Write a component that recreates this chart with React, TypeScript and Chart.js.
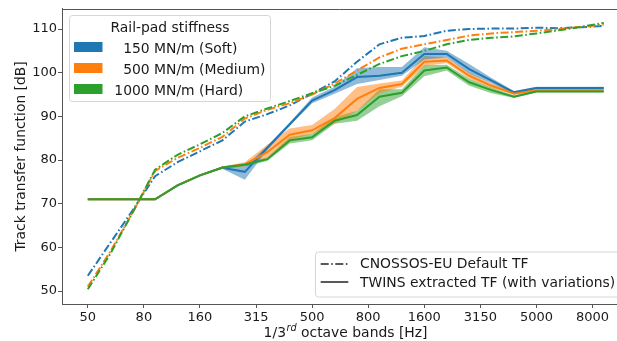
import React, { useEffect, useRef } from 'react';
import { Chart, registerables } from 'chart.js';
Chart.register(...registerables);

// 1/3 octave band centre frequencies (Hz), plotted at index positions
const BANDS = ['50','63','80','100','125','160','200','250','315','400','500','630','800','1000','1250','1600','2000','2500','3150','4000','5000','6300','8000','10000'];
const X_TICK_POS = [0, 2.5, 5, 7.5, 10, 12.5, 15, 17.5, 20, 22.5];
const X_TICK_LABELS = ['50','80','160','315','500','800','1600','3150','5000','8000'];
const Y_TICKS = [50, 60, 70, 80, 90, 100, 110];

const STIFFNESS_LABELS = ['  150 MN/m (Soft)', '  500 MN/m (Medium)', '1000 MN/m (Hard)'];
const COLORS = ['#1f77b4', '#ff7f0e', '#2ca02c'];
const BAND_COLORS = ['rgba(31,119,180,0.5)', 'rgba(255,127,14,0.5)', 'rgba(44,160,44,0.5)'];
const LEGEND_TITLE = 'Rail-pad stiffness';
const STYLE_LABELS = ['CNOSSOS-EU Default TF', 'TWINS extracted TF (with variations)'];

// CNOSSOS-EU default transfer functions (dash-dot)
const CNOSSOS_SOFT = [53.5, 61.0, 68.5, 76.3, 79.5, 82.0, 84.5, 88.8, 90.5, 92.5, 95.2, 98.0, 102.5, 106.5, 108.0, 108.4, 109.6, 110.0, 110.1, 110.1, 110.3, 110.2, 110.4, 110.7];
const CNOSSOS_MEDIUM = [51.0, 59.0, 68.0, 77.5, 80.5, 82.8, 85.3, 89.5, 91.5, 93.0, 95.0, 97.5, 100.5, 103.5, 105.5, 106.5, 107.5, 108.5, 109.0, 109.3, 109.6, 110.0, 110.5, 111.0];
const CNOSSOS_HARD = [50.4, 58.5, 68.0, 77.8, 81.2, 83.6, 86.2, 90.0, 91.8, 93.5, 95.3, 97.0, 99.5, 102.0, 103.8, 105.0, 106.5, 107.5, 108.0, 108.3, 109.0, 109.7, 110.5, 111.4];

// TWINS extracted transfer functions (solid)
const TWINS_SOFT = [71, 71, 71, 71, 74.2, 76.5, 78.2, 77.3, 82.8, 88.2, 93.6, 96.0, 99.0, 99.3, 100.0, 104.3, 104.3, 100.8, 98.2, 95.5, 96.5, 96.5, 96.5, 96.5];
const TWINS_MEDIUM = [71, 71, 71, 71, 74.2, 76.5, 78.3, 79.0, 81.8, 85.8, 86.8, 89.6, 94.0, 96.5, 97.4, 102.5, 102.8, 99.3, 97.0, 95.2, 96.0, 96.0, 96.0, 96.0];
const TWINS_HARD = [71, 71, 71, 71, 74.2, 76.5, 78.3, 78.9, 80.2, 84.5, 85.2, 89.0, 90.3, 94.5, 95.4, 100.5, 101.2, 97.8, 96.0, 94.5, 95.7, 95.7, 95.7, 95.7];

// Variation envelopes
const SOFT_LOW = [71, 71, 71, 71, 74.1, 76.4, 78.0, 75.5, 82.3, 87.8, 93.0, 95.2, 97.4, 98.3, 99.3, 103.0, 103.5, 99.8, 97.6, 95.2, 96.2, 96.2, 96.2, 96.2];
const SOFT_HIGH = [71, 71, 71, 71, 74.3, 76.6, 78.5, 78.5, 83.2, 88.6, 94.3, 96.8, 101.0, 101.3, 101.3, 105.8, 105.0, 102.0, 98.8, 95.8, 96.8, 96.8, 96.8, 96.8];
const MEDIUM_LOW = [71, 71, 71, 71, 74.1, 76.4, 78.1, 78.5, 80.5, 84.5, 86.0, 88.3, 91.3, 95.3, 96.8, 101.5, 102.2, 98.6, 96.5, 95.0, 95.8, 95.8, 95.8, 95.8];
const MEDIUM_HIGH = [71, 71, 71, 71, 74.3, 76.6, 78.5, 79.5, 83.5, 87.2, 88.0, 91.7, 96.7, 97.5, 98.2, 103.8, 103.5, 100.0, 97.6, 95.5, 96.2, 96.2, 96.2, 96.2];
const HARD_LOW = [71, 71, 71, 71, 74.1, 76.4, 78.1, 78.5, 79.8, 83.8, 84.5, 88.3, 89.0, 92.3, 94.6, 99.2, 100.5, 97.0, 95.3, 94.2, 95.5, 95.5, 95.5, 95.5];
const HARD_HIGH = [71, 71, 71, 71, 74.3, 76.6, 78.5, 79.3, 80.6, 85.3, 86.0, 89.8, 91.3, 96.2, 96.2, 101.7, 101.8, 98.6, 96.6, 94.8, 95.9, 95.9, 95.9, 95.9];

const CNOSSOS = [CNOSSOS_SOFT, CNOSSOS_MEDIUM, CNOSSOS_HARD];
const TWINS = [TWINS_SOFT, TWINS_MEDIUM, TWINS_HARD];
const LOWS = [SOFT_LOW, MEDIUM_LOW, HARD_LOW];
const HIGHS = [SOFT_HIGH, MEDIUM_HIGH, HARD_HIGH];

const FONT = "'DejaVu Sans', sans-serif";
const SPINE = '#555555';
const TEXT = '#1a1a1a';
const DASHDOT = [8, 2.5, 1.6, 2.5];

const pts = (arr: number[]) => arr.map((y, i) => ({ x: i, y }));

function buildDatasets() {
  const ds: any[] = [];
  for (let k = 0; k < 3; k++) {
    const lowIndex = ds.length;
    ds.push({ label: 'low' + k, data: pts(LOWS[k]), borderWidth: 0, pointRadius: 0, fill: false, order: 10 });
    ds.push({ label: 'high' + k, data: pts(HIGHS[k]), borderWidth: 0, pointRadius: 0, fill: { target: lowIndex }, backgroundColor: BAND_COLORS[k], order: 10 });
  }
  for (let k = 0; k < 3; k++) {
    ds.push({ label: 'cnossos' + k, data: pts(CNOSSOS[k]), borderColor: COLORS[k], borderWidth: 2, borderDash: DASHDOT, pointRadius: 0, fill: false, order: 5 - k });
  }
  for (let k = 0; k < 3; k++) {
    ds.push({ label: 'twins' + k, data: pts(TWINS[k]), borderColor: COLORS[k], borderWidth: 2, pointRadius: 0, fill: false, order: 3 - k });
  }
  return ds;
}

const overlayPlugin = {
  id: 'overlay',
  afterDraw(chart: any) {
    const { ctx, chartArea: a } = chart;
    ctx.save();
    // top spine
    ctx.strokeStyle = SPINE;
    ctx.lineWidth = 1;
    ctx.beginPath();
    ctx.moveTo(a.left, Math.round(a.top) + 0.5);
    ctx.lineTo(a.right, Math.round(a.top) + 0.5);
    ctx.stroke();

    // x-axis title with superscript
    const main = `13.9px ${FONT}`;
    const sup = `italic 9.7px ${FONT}`;
    const p1 = '1/3', p2 = 'rd', p3 = ' octave bands [Hz]';
    ctx.font = main; const w1 = ctx.measureText(p1).width; const w3 = ctx.measureText(p3).width;
    ctx.font = sup; const w2 = ctx.measureText(p2).width;
    let x0 = 345.3 - (w1 + w2 + w3) / 2;
    const base = 337;
    ctx.fillStyle = TEXT;
    ctx.textBaseline = 'alphabetic';
    ctx.textAlign = 'left';
    ctx.font = main; ctx.fillText(p1, x0, base);
    ctx.font = sup; ctx.fillText(p2, x0 + w1 + 0.5, base - 6.5);
    ctx.font = main; ctx.fillText(p3, x0 + w1 + w2 + 0.5, base);

    // legend 1: stiffness
    const rr = (x: number, y: number, w: number, h: number, r: number) => {
      ctx.beginPath();
      ctx.moveTo(x + r, y);
      ctx.lineTo(x + w - r, y); ctx.arcTo(x + w, y, x + w, y + r, r);
      ctx.lineTo(x + w, y + h - r); ctx.arcTo(x + w, y + h, x + w - r, y + h, r);
      ctx.lineTo(x + r, y + h); ctx.arcTo(x, y + h, x, y + h - r, r);
      ctx.lineTo(x, y + r); ctx.arcTo(x, y, x + r, y, r);
      ctx.closePath();
    };
    rr(69.5, 15.5, 201, 86, 3);
    ctx.fillStyle = 'rgba(255,255,255,0.8)'; ctx.fill();
    ctx.strokeStyle = '#d6d6d6'; ctx.lineWidth = 1; ctx.stroke();
    ctx.fillStyle = TEXT; ctx.font = main; ctx.textAlign = 'center';
    ctx.fillText(LEGEND_TITLE, 170, 32);
    ctx.textAlign = 'left';
    for (let k = 0; k < 3; k++) {
      const cy = 47 + k * 21;
      ctx.fillStyle = COLORS[k];
      ctx.fillRect(74, cy - 5, 28.5, 10);
      ctx.fillStyle = TEXT;
      ctx.fillText(STIFFNESS_LABELS[k], 114.3, cy + 5.5);
    }

    // legend 2: line styles
    rr(315.5, 252, 310, 45, 3);
    ctx.fillStyle = 'rgba(255,255,255,0.8)'; ctx.fill();
    ctx.strokeStyle = '#d6d6d6'; ctx.stroke();
    ctx.strokeStyle = '#595959'; ctx.lineWidth = 2;
    ctx.setLineDash(DASHDOT);
    ctx.beginPath(); ctx.moveTo(320.7, 264); ctx.lineTo(348.3, 264); ctx.stroke();
    ctx.setLineDash([]);
    ctx.beginPath(); ctx.moveTo(320.7, 282); ctx.lineTo(348.3, 282); ctx.stroke();
    ctx.fillStyle = TEXT;
    ctx.fillText(STYLE_LABELS[0], 360, 268.3);
    ctx.fillText(STYLE_LABELS[1], 360, 286.6);
    ctx.restore();
  },
};

export default function App() {
  const ref = useRef<HTMLCanvasElement>(null);
  useEffect(() => {
    const canvas = ref.current;
    if (!canvas) return;
    Chart.defaults.font.family = FONT;
    const chart = new Chart(canvas, {
      type: 'line',
      data: { labels: BANDS, datasets: buildDatasets() },
      options: {
        animation: false,
        responsive: false,
        devicePixelRatio: 1,
        events: [],
        layout: { padding: { top: 8, left: 0, right: 0, bottom: 0 } },
        plugins: { legend: { display: false }, tooltip: { enabled: false } },
        scales: {
          x: {
            type: 'linear',
            min: -1.15,
            max: 23.59,
            afterFit: (s: any) => { s.height = 37; },
            afterBuildTicks: (s: any) => { s.ticks = X_TICK_POS.map((v) => ({ value: v })); },
            ticks: {
              autoSkip: false,
              maxRotation: 0,
              padding: 2,
              color: TEXT,
              font: { size: 13, family: FONT },
              callback: (v: any) => { const i = X_TICK_POS.indexOf(Number(v)); return i >= 0 ? X_TICK_LABELS[i] : ''; },
            },
            grid: { display: true, drawOnChartArea: false, drawTicks: true, tickLength: 4, color: SPINE },
            border: { display: true, color: SPINE, width: 1 },
          },
          y: {
            type: 'linear',
            min: 47.03,
            max: 114.63,
            afterFit: (s: any) => { s.width = 62; },
            afterBuildTicks: (s: any) => { s.ticks = Y_TICKS.map((v) => ({ value: v })); },
            ticks: { padding: 1, color: TEXT, font: { size: 13, family: FONT } },
            grid: { display: true, drawOnChartArea: false, drawTicks: true, tickLength: 4, color: SPINE },
            border: { display: true, color: SPINE, width: 1 },
            title: { display: true, text: 'Track transfer function [dB]', color: TEXT, font: { size: 13.9, family: FONT }, padding: { top: 12.7, bottom: 0 } },
          },
        },
      },
      plugins: [overlayPlugin],
    } as any);
    return () => chart.destroy();
  }, []);
  return (
    <div style={{ position: 'absolute', left: 0, top: 0, width: 617, height: 341, overflow: 'hidden', background: '#fff' }}>
      <canvas ref={ref} width={617} height={341} style={{ display: 'block', width: 617, height: 341 }} />
    </div>
  );
}
